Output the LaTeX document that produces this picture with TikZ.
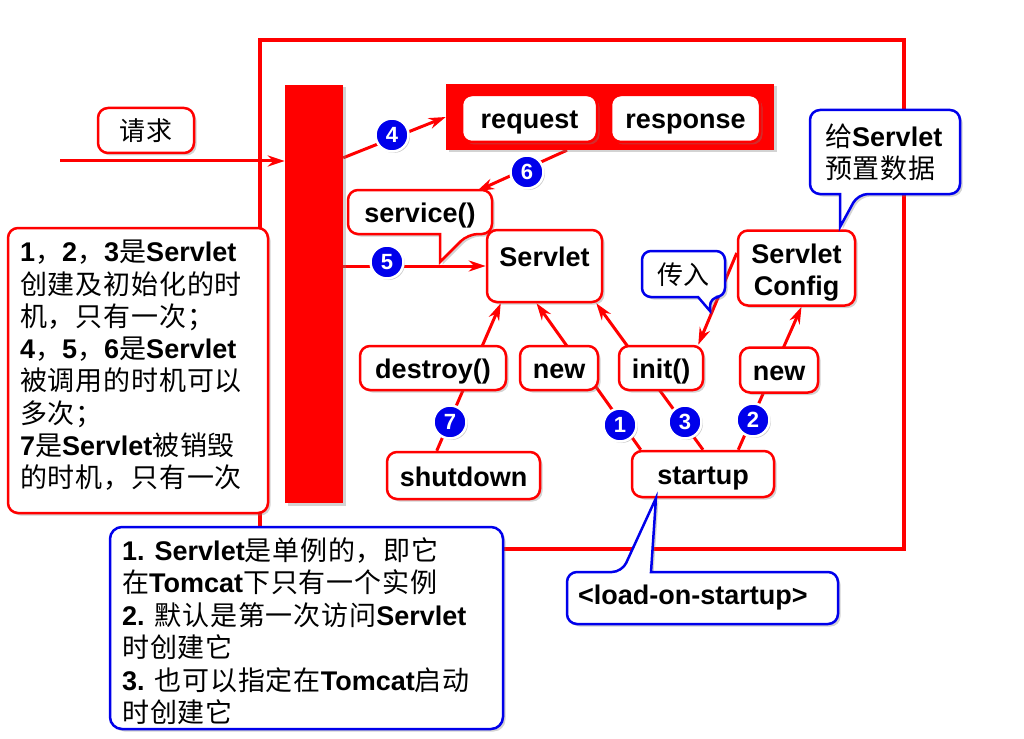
\documentclass[tikz,border=0pt]{standalone}
\usepackage{fontspec}
\setmainfont{Liberation Sans}
\newfontfamily\cjk[LetterSpace=3]{Noto Sans CJK SC}
\usetikzlibrary{arrows.meta,calc,shadows}
\pgfdeclarelayer{bg}
\pgfsetlayers{bg,main}
\newcommand\zh[1]{{\cjk\mdseries #1}}
\definecolor{rd}{RGB}{255,0,0}
\definecolor{bl}{RGB}{0,0,235}
\tikzset{
  shd/.style={drop shadow={opacity=0.35, shadow xshift=2.5pt, shadow yshift=-2.5pt}},
  frame/.style={draw=rd, line width=2.5pt, fill=white, rounded corners=10pt, inner sep=0pt,
    font=\bfseries\fontsize{27}{32}\selectfont, shd},
  box/.style={frame, text height=21pt, text depth=0pt},
  txt/.style={font=\bfseries\fontsize{27}{32.3}\selectfont, inner sep=0pt},
  arr/.style={draw=rd, line width=3pt, -{Stealth[length=17pt,width=11pt]}},
  num/.style={circle, fill=bl, draw=white, line width=2.5pt, minimum size=33pt, inner sep=0pt,
    text=white, font=\bfseries\fontsize{22}{22}\selectfont,
    drop shadow={opacity=0.4, shadow xshift=1.5pt, shadow yshift=-1.5pt}},
  callred/.style={draw=rd, fill=white, line width=2.5pt, shd},
  callblue/.style={draw=bl, fill=white, line width=2.5pt, shd},
}
\begin{document}
\begin{tikzpicture}[x=1pt,y=-1pt]
\useasboundingbox (0,0) rectangle (1024,738);
% outer frame
\begin{pgfonlayer}{bg}
\draw[rd, line width=3.5pt] (260,40) rectangle (904,549);
\end{pgfonlayer}

% request label
\node[box, font=\fontsize{26}{30}\selectfont, minimum width=96pt, minimum height=45pt] (qq) at (146,130.5) {\zh{请求}};

% red bar and request/response container
\node[fill=rd, minimum width=58pt, minimum height=418pt, inner sep=0pt, shd] (bar) at (314,294) {};
\node[fill=rd, minimum width=328pt, minimum height=66pt, inner sep=0pt, shd] (rr) at (610,117) {};
\node[box, minimum width=135pt, minimum height=47pt] (req) at (529.5,118.5) {request};
\node[box, minimum width=149pt, minimum height=47pt] (resp) at (685.5,118.5) {response};

% service() callout
\path[callred] (348,212) [rounded corners=10pt] |- (492,190) |- (468,234) [sharp corners] -- (440,262) -- (440,234) [rounded corners=10pt] -| (348,212) -- cycle;
\node[txt, text height=21pt, text depth=0pt] (svc) at (420,212) {service()};
\coordinate (svctip) at (477,191);

% Servlet and ServletConfig
\node[frame, minimum width=115pt, minimum height=72pt, text height=19pt, text depth=19pt] (srv) at (544.5,266) {Servlet};
\node[frame, minimum width=117pt, minimum height=75pt, align=center] (cfg) at (796.5,268) {\rule{0pt}{29pt}Servlet\\Config};

% blue callout: 给Servlet 预置数据
\path[callblue] (810,150) [rounded corners=10pt] |- (960,110) |- (858,194) [sharp corners] -- (840,227) -- (840,194) [rounded corners=10pt] -| (810,150) -- cycle;
\node[txt, align=left, anchor=west] (give) at (825,152) {\zh{给}Servlet\\\zh{预置数据}};

% blue callout: 传入
\path[callblue] (642,274) [rounded corners=9pt] |- (725,251) |- (710,297) [sharp corners] -- (710,311) -- (698,297) [rounded corners=9pt] -| (642,274) -- cycle;
\node[txt, font=\fontsize{26}{30}\selectfont] (pass) at (683.5,275) {\zh{传入}};

% method boxes
\node[box, minimum width=146pt, minimum height=44pt] (des) at (433,368) {destroy()};
\node[box, minimum width=78pt, minimum height=44pt] (new1) at (559,368) {new};
\node[box, minimum width=84pt, minimum height=44pt] (init) at (661,368) {init()};
\node[box, minimum width=78pt, minimum height=45pt] (new2) at (779,370) {new};
\node[box, minimum width=153pt, minimum height=47pt] (shut) at (463.5,475.5) {shutdown};
\node[box, minimum width=142pt, minimum height=46pt] (start) at (703,474) {startup};

% connectors
\coordinate (src) at (60,161);
\begin{pgfonlayer}{bg}
\draw[arr] (src) -- (bar.west |- src);
\draw[arr] ($(bar.north east)+(0,73)$) -- (rr.west);
\draw[arr] ($(rr.south)+(-43,0)$) -- (svctip);
\draw[arr] (bar.east |- srv) -- (srv.west);
\draw[arr] ($(cfg.west)+(0,-15)$) -- ($(init.north east)+(-6,0)$);
\draw[arr] ($(shut.north west)+(51,0)$) -- ($(srv.south west)+(15,0)$);
\draw[arr] ($(start.north west)+(10,0)$) -- ($(srv.south)+(-8,0)$);
\draw[arr] (start.north) -- ($(srv.south east)+(-7,0)$);
\draw[arr] ($(start.north east)+(-37,0)$) -- ($(cfg.south)+(5,0)$);
\end{pgfonlayer}

% numbers
\node[num] (n4) at (392,135) {4};
\node[num] (n6) at (527,172) {6};
\node[num] (n5) at (387,262) {5};
\node[num] (n7) at (450,422) {7};
\node[num] (n1) at (620,425) {1};
\node[num] (n3) at (685,422) {3};
\node[num] (n2) at (753,420) {2};

% left explanation box
\node[frame, minimum width=260pt, minimum height=285pt] (lbox) at (138,370.5) {};
\node[txt, align=left, anchor=north west] (ltxt) at (20,240) {%
1\zh{，}2\zh{，}3\zh{是}Servlet\\
\zh{创建及初始化的时}\\
\zh{机，只有一次；}\\
4\zh{，}5\zh{，}6\zh{是}Servlet\\
\zh{被调用的时机可以}\\
\zh{多次；}\\
7\zh{是}Servlet\zh{被销毁}\\
\zh{的时机，只有一次}};

% bottom note
\node[draw=bl, line width=2.5pt, fill=white, rounded corners=12pt, minimum width=393pt, minimum height=202pt, inner sep=0pt, shd] (note) at (306.5,628) {};
\node[txt, align=left, anchor=north west, font=\bfseries\fontsize{27}{32.5}\selectfont] (ntxt) at (122,537) {%
1. Servlet\zh{是单例的，即它}\\
\zh{在}Tomcat\zh{下只有一个实例}\\
2. \zh{默认是第一次访问}Servlet\\
\zh{时创建它}\\
3. \zh{也可以指定在}Tomcat\zh{启动}\\
\zh{时创建它}};

% load-on-startup callout
\path[callblue] (567,598) [rounded corners=10pt] |- (622,572) [sharp corners] -- (656,498) -- (651,572) [rounded corners=10pt] -| (838,598) |- (567,624) -- cycle;
\node[txt, anchor=west] (los) at (578,598) {<load-on-startup>};
\end{tikzpicture}
\end{document}
